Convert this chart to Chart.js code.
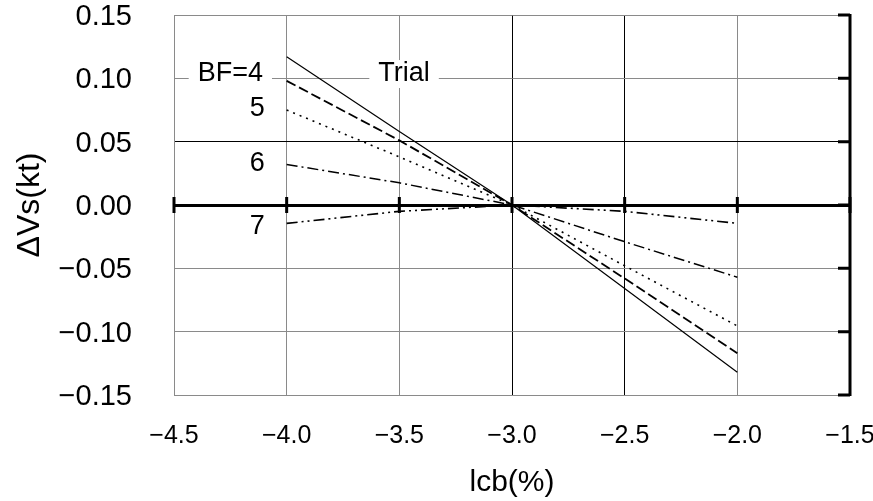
<!DOCTYPE html>
<html>
<head>
<meta charset="utf-8">
<script src="https://cdn.jsdelivr.net/npm/chart.js@4.4.1/dist/chart.umd.min.js"></script>
<style>
  html, body { margin: 0; padding: 0; background: #ffffff; }
  #wrap { width: 873px; height: 501px; }
</style>
</head>
<body>
<div id="wrap"><canvas id="chart" width="873" height="501"></canvas></div>
<script>
// lcb positions (%) where the speed change was evaluated
const lcb = [-4.0, -3.5, -3.0, -2.5, -2.0];

// Speed change ΔVs (kt) for the trial condition and each Beaufort number
const trial = [0.117, 0.058, 0, -0.066, -0.132];
const bf4   = [0.098, 0.051, 0, -0.058, -0.117];
const bf5   = [0.075, 0.038, 0, -0.048, -0.0955];
const bf6   = [0.032, 0.0175, 0, -0.029, -0.057];
const bf7   = [-0.0145, -0.005, 0, -0.005, -0.0145];

// Axis tick labels
const xTickLabels = ['\u22124.5', '\u22124.0', '\u22123.5', '\u22123.0', '\u22122.5', '\u22122.0', '\u22121.5'];
const yTickLabels = ['\u22120.15', '\u22120.10', '\u22120.05', '0.00', '0.05', '0.10', '0.15'];

// Curve names and where they are written (data units)
const curveNames = ['BF=4', 'Trial', '5', '6', '7'];
const curveNameX = [-4.25, -3.479, -4.13, -4.13, -4.13];
const curveNameY = [0.104, 0.1034, 0.0762, 0.0324, -0.0174];
const curveNameBoxed = [true, true, false, false, false];

const FONT = "'Liberation Sans', Arial, sans-serif";

function pts(ys) { return lcb.map((x, i) => ({ x: x, y: ys[i] })); }

// Thick zero line ticks, heavy right frame with inward ticks, and curve names
const framePlugin = {
  id: 'frameMarks',
  beforeDatasetsDraw(chart) {
    const { ctx, chartArea: a, scales: { x, y } } = chart;
    ctx.save();
    // curve names (white box hides the grid behind)
    ctx.font = '27px ' + FONT;
    ctx.textAlign = 'center';
    ctx.textBaseline = 'middle';
    curveNames.forEach((t, i) => {
      const px = x.getPixelForValue(curveNameX[i]);
      const py = y.getPixelForValue(curveNameY[i]);
      const w = ctx.measureText(t).width;
      if (curveNameBoxed[i]) {
        ctx.fillStyle = '#ffffff';
        ctx.fillRect(px - w / 2 - 9, py - 14, w + 18, 28);
      }
      ctx.fillStyle = '#000000';
      ctx.fillText(t, px, py);
    });
    // ticks across the zero line
    const y0 = y.getPixelForValue(0);
    ctx.strokeStyle = '#000000';
    ctx.lineWidth = 3;
    ctx.beginPath();
    x.ticks.forEach(tk => {
      const px = x.getPixelForValue(tk.value);
      ctx.moveTo(px, y0 - 8);
      ctx.lineTo(px, y0 + 8);
    });
    ctx.stroke();
    // heavy right frame with inward ticks
    ctx.beginPath();
    ctx.moveTo(a.right, a.top - 1);
    ctx.lineTo(a.right, a.bottom + 1);
    y.ticks.forEach(tk => {
      const py = y.getPixelForValue(tk.value);
      ctx.moveTo(a.right - 12, py);
      ctx.lineTo(a.right, py);
    });
    ctx.stroke();
    ctx.restore();
  }
};

function lineSet(label, ys, dash, width) {
  return {
    label: label,
    data: pts(ys),
    borderColor: '#000000',
    borderWidth: width,
    borderDash: dash,
    pointRadius: 0,
    fill: false,
    tension: 0
  };
}

new Chart(document.getElementById('chart'), {
  type: 'line',
  data: {
    datasets: [
      lineSet('Trial', trial, [], 1.2),
      lineSet('BF=4', bf4, [10, 4], 1.8),
      lineSet('BF=5', bf5, [2, 5], 1.6),
      lineSet('BF=6', bf6, [11, 4, 2, 4], 1.5),
      lineSet('BF=7', bf7, [11, 4, 2, 4, 2, 4], 1.6)
    ]
  },
  options: {
    responsive: false,
    animation: false,
    devicePixelRatio: 1,
    layout: { padding: { top: 15, right: 23, left: 0, bottom: 0 } },
    plugins: { legend: { display: false }, tooltip: { enabled: false } },
    scales: {
      x: {
        type: 'linear',
        min: -4.5,
        max: -1.5,
        afterFit(s) { s.height = 106; s.paddingLeft = 0; s.paddingRight = 0; },
        ticks: {
          stepSize: 0.5,
          padding: 26,
          color: '#000000',
          font: { family: FONT, size: 25, lineHeight: 1.2 },
          maxRotation: 0,
          callback: (v, i) => xTickLabels[i]
        },
        grid: {
          drawTicks: false,
          lineWidth: 1,
          color: c => (c.tick && (Math.abs(c.tick.value + 3.0) < 1e-6 || Math.abs(c.tick.value + 2.5) < 1e-6)) ? '#000000' : '#8a8a8a'
        },
        border: { color: '#8a8a8a', width: 1 },
        title: {
          display: true,
          text: 'lcb(%)',
          color: '#000000',
          font: { family: FONT, size: 30, lineHeight: 1.2 },
          padding: { top: 0, bottom: 0 }
        }
      },
      y: {
        type: 'linear',
        min: -0.15,
        max: 0.15,
        afterFit(s) { s.width = 174; s.paddingTop = 0; s.paddingBottom = 0; },
        ticks: {
          stepSize: 0.05,
          padding: 42,
          labelOffset: 2,
          color: '#000000',
          font: { family: FONT, size: 29, lineHeight: 1.2 },
          callback: (v, i) => yTickLabels[i]
        },
        grid: {
          drawTicks: false,
          lineWidth: c => (c.tick && Math.abs(c.tick.value) < 1e-9) ? 3 : 1,
          color: c => (c.tick && (Math.abs(c.tick.value) < 1e-9 || Math.abs(c.tick.value - 0.05) < 1e-9)) ? '#000000' : '#8a8a8a'
        },
        border: { color: '#8a8a8a', width: 1 },
        title: {
          display: true,
          text: '\u0394Vs(kt)',
          color: '#000000',
          font: { family: FONT, size: 32, lineHeight: 1.2 },
          padding: { top: 11, bottom: 0 }
        }
      }
    }
  },
  plugins: [framePlugin]
});
</script>
</body>
</html>
